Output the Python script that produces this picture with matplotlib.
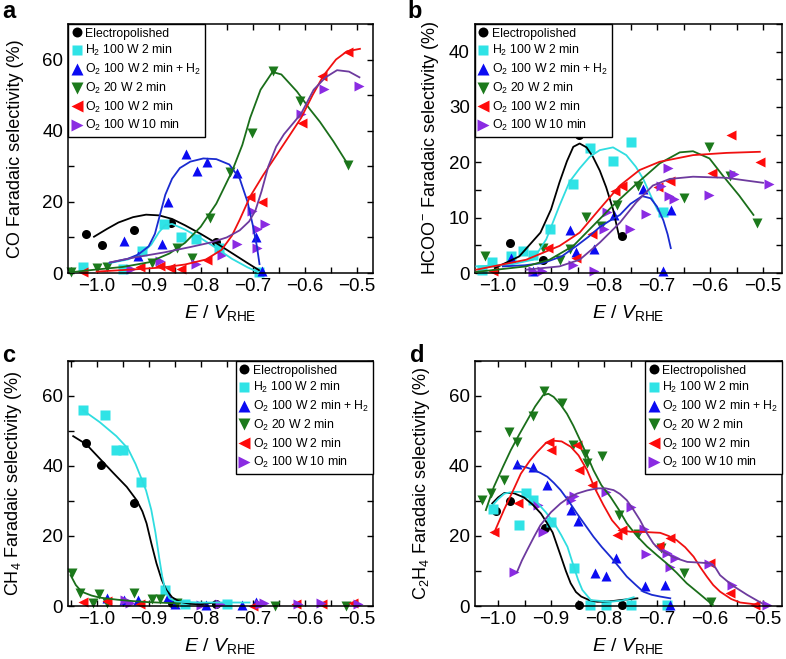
import numpy as np
import matplotlib
matplotlib.use("Agg")
import matplotlib.pyplot as plt
from matplotlib.ticker import MultipleLocator

plt.rcParams['font.family'] = ['Liberation Sans', 'DejaVu Sans']
plt.rcParams['mathtext.fontset'] = 'custom'
plt.rcParams['mathtext.rm'] = 'Liberation Sans'
plt.rcParams['mathtext.it'] = 'Liberation Sans:italic'

labels = ['Electropolished', 'H$_2$ 100 W 2 min', 'O$_2$ 100 W 2 min + H$_2$',
          'O$_2$ 20 W 2 min', 'O$_2$ 100 W 2 min', 'O$_2$ 100 W 10 min']
markers = ['o', 's', '^', 'v', '<', '>']
mcolors = ['black', '#2fe3e6', '#0b0bf2', '#1c7a1c', '#ff0a0a', '#8a2be2']
lcolors = ['black', '#30dde0', '#1a2bd0', '#1a6e1a', '#f01010', '#6d3a9e']

# ---- panel a: CO ----
co_ep = [(-1.02, 11.1), (-0.99, 7.9), (-0.928, 12.1), (-0.858, 14.0), (-0.77, 8.6)]
co_ep_fit = [(-1.005, 10.2), (-0.98, 12.4), (-0.958, 14.2), (-0.93, 15.7), (-0.905, 16.4), (-0.88, 16.2),
             (-0.855, 15.2), (-0.83, 13.4), (-0.80, 11.0), (-0.77, 8.4), (-0.74, 5.6), (-0.71, 2.8), (-0.688, 0.8)]
co_h2 = [(-1.027, 1.7), (-0.949, 1.1), (-0.913, 6.3), (-0.870, 13.9), (-0.838, 10.0), (-0.809, 9.7),
         (-0.764, 7.1), (-0.688, 0.4)]
co_h2_fit = [(-0.975, 2.8), (-0.94, 3.8), (-0.913, 5.5), (-0.895, 8.0), (-0.88, 11.5), (-0.868, 13.5),
             (-0.855, 13.8), (-0.83, 12.2), (-0.80, 9.8), (-0.77, 7.0), (-0.74, 4.0), (-0.71, 1.6), (-0.69, 0.3)]
co_o2h2 = [(-0.947, 9.0), (-0.921, 4.7), (-0.875, 8.1), (-0.862, 19.9), (-0.829, 33.4), (-0.808, 28.6),
           (-0.788, 31.3), (-0.731, 28.2), (-0.694, 10.0), (-0.683, 0.5)]
co_o2h2_fit = [(-0.975, 2.9), (-0.94, 4.0), (-0.92, 5.2), (-0.90, 7.5), (-0.888, 11.0), (-0.878, 16.5),
               (-0.868, 22.0), (-0.855, 26.5), (-0.84, 29.5), (-0.82, 31.3), (-0.795, 32.2), (-0.77, 32.0),
               (-0.745, 30.5), (-0.725, 26.5), (-0.71, 20.0), (-0.70, 13.5), (-0.692, 7.5), (-0.687, 2.5)]
co_o220 = [(-1.049, 0.2), (-1.0, 1.4), (-0.981, 1.6), (-0.894, 2.8), (-0.846, 7.1), (-0.817, 4.3),
           (-0.783, 15.6), (-0.744, 28.4), (-0.702, 39.3), (-0.662, 56.8), (-0.609, 48.3), (-0.517, 30.3)]
co_o220_fit = [(-1.05, 0.2), (-1.0, 1.0), (-0.95, 1.7), (-0.90, 3.0), (-0.86, 5.5), (-0.83, 8.5), (-0.80, 13.0),
               (-0.77, 19.5), (-0.74, 28.5), (-0.72, 36.0), (-0.705, 43.6), (-0.685, 51.5), (-0.662, 56.5),
               (-0.645, 55.8), (-0.615, 51.0), (-0.59, 46.0), (-0.571, 42.5), (-0.545, 37.0), (-0.517, 30.5)]
co_o2100 = [(-1.026, 0.3), (-0.917, 1.7), (-0.878, 1.9), (-0.859, 1.4), (-0.837, 1.1), (-0.788, 3.8),
            (-0.706, 21.3), (-0.683, 19.9), (-0.606, 42.2), (-0.567, 55.5), (-0.516, 62.0)]
co_o2100_fit = [(-1.0, 0.4), (-0.93, 1.0), (-0.87, 1.6), (-0.83, 2.4), (-0.79, 3.8), (-0.76, 6.5), (-0.74, 10.5),
                (-0.725, 15.0), (-0.705, 21.5), (-0.68, 27.5), (-0.655, 33.0), (-0.63, 38.5), (-0.607, 43.6),
                (-0.585, 50.0), (-0.564, 55.5), (-0.54, 60.0), (-0.519, 62.3), (-0.494, 63.0)]
co_o210 = [(-0.934, 1.1), (-0.878, 3.5), (-0.809, 2.4), (-0.760, 5.2), (-0.731, 8.1), (-0.702, 17.5),
           (-0.692, 12.3), (-0.692, 7.1), (-0.676, 13.7), (-0.607, 44.6), (-0.564, 51.6), (-0.495, 52.6)]
co_o210_fit = [(-0.974, 3.0), (-0.93, 4.3), (-0.87, 5.8), (-0.82, 7.3), (-0.78, 8.6), (-0.75, 10.0),
               (-0.725, 12.0), (-0.707, 14.5), (-0.695, 17.5), (-0.683, 23.0), (-0.67, 30.0), (-0.655, 35.5),
               (-0.64, 39.0), (-0.62, 42.5), (-0.607, 44.8), (-0.583, 51.5), (-0.56, 55.0), (-0.538, 57.0),
               (-0.515, 56.6), (-0.495, 55.0)]

# ---- panel b: HCOO- ----
fa_ep = [(-0.978, 5.5), (-0.916, 2.3), (-0.848, 25.0), (-0.767, 6.6)]
fa_ep_fit = [(-1.006, 0.9), (-0.96, 3.0), (-0.92, 7.3), (-0.90, 11.5), (-0.884, 16.4), (-0.87, 20.2),
             (-0.858, 22.8), (-0.846, 23.4), (-0.833, 22.7), (-0.821, 21.0), (-0.808, 18.5), (-0.796, 15.5),
             (-0.783, 11.5), (-0.772, 6.8)]
fa_h2 = [(-1.031, 0.6), (-1.012, 2.0), (-0.975, 3.0), (-0.952, 4.0), (-0.934, 3.3), (-0.902, 8.0),
         (-0.858, 16.0), (-0.827, 22.5), (-0.783, 20.3), (-0.750, 23.7), (-0.688, 11.0)]
fa_h2_fit = [(-1.041, 1.2), (-0.978, 1.5), (-0.934, 2.4), (-0.909, 6.1), (-0.884, 12.2), (-0.865, 16.5),
             (-0.846, 18.9), (-0.827, 21.0), (-0.808, 22.2), (-0.783, 22.7), (-0.758, 21.3), (-0.740, 19.2),
             (-0.726, 17.0), (-0.712, 14.0), (-0.698, 11.2), (-0.688, 10.7), (-0.682, 10.8)]
fa_o2h2 = [(-0.975, 2.7), (-0.934, 0.3), (-0.864, 7.8), (-0.852, 3.8), (-0.818, 4.4), (-0.781, 10.5),
           (-0.726, 15.2), (-0.688, 0.3), (-0.674, 11.3)]
fa_o2h2_fit = [(-0.991, 1.2), (-0.95, 1.4), (-0.915, 1.8), (-0.88, 3.0), (-0.852, 4.9), (-0.83, 6.5),
               (-0.808, 8.3), (-0.79, 9.4), (-0.77, 10.5), (-0.75, 12.5), (-0.728, 13.9), (-0.712, 13.5),
               (-0.70, 12.0), (-0.688, 9.5), (-0.68, 7.0), (-0.674, 4.5)]
fa_o220 = [(-1.025, 3.0), (-0.916, 4.6), (-0.884, 2.3), (-0.864, 4.4), (-0.834, 10.2), (-0.806, 8.5),
           (-0.775, 12.3), (-0.735, 15.7), (-0.649, 13.6), (-0.601, 22.8), (-0.563, 17.5), (-0.511, 9.0)]
fa_o220_fit = [(-1.041, 0.2), (-0.947, 1.2), (-0.903, 2.4), (-0.858, 4.9), (-0.821, 8.5), (-0.783, 12.2),
               (-0.739, 16.1), (-0.695, 19.8), (-0.657, 21.8), (-0.632, 22.0), (-0.601, 20.7), (-0.575, 17.5),
               (-0.545, 14.0), (-0.518, 10.5)]
fa_o2100 = [(-1.009, 0.3), (-0.906, 4.6), (-0.853, 2.7), (-0.822, 7.0), (-0.780, 14.9), (-0.767, 15.8),
            (-0.698, 15.5), (-0.676, 16.7), (-0.597, 18.1), (-0.560, 25.0), (-0.506, 20.1)]
fa_o2100_fit = [(-1.041, 0.6), (-0.947, 2.4), (-0.884, 4.9), (-0.846, 7.3), (-0.808, 11.6), (-0.770, 15.8),
                (-0.733, 18.6), (-0.695, 20.1), (-0.632, 21.3), (-0.569, 21.7), (-0.506, 21.9)]
fa_o210 = [(-0.934, 0.3), (-0.918, 0.3), (-0.858, 1.5), (-0.818, 0.3), (-0.800, 7.9), (-0.795, 11.0),
           (-0.751, 8.0), (-0.721, 10.7), (-0.692, 15.8), (-0.679, 18.9), (-0.677, 14.0), (-0.668, 13.3),
           (-0.601, 14.1), (-0.555, 17.8), (-0.488, 16.1)]
fa_o210_fit = [(-0.947, 0.6), (-0.884, 1.2), (-0.846, 2.4), (-0.808, 5.5), (-0.770, 9.1), (-0.739, 12.8),
               (-0.708, 15.8), (-0.676, 17.0), (-0.632, 17.4), (-0.569, 17.2), (-0.531, 16.7), (-0.50, 16.3)]

# ---- panel c: CH4 ----
ch4_ep = [(-1.020, 46.6), (-0.992, 40.4), (-0.928, 29.5), (-0.855, 1.0), (-0.77, 0.5)]
ch4_ep_fit = [(-1.045, 48.5), (-1.02, 46.2), (-0.994, 42.1), (-0.968, 38.0), (-0.942, 34.0), (-0.923, 30.2),
              (-0.912, 27.0), (-0.904, 23.6), (-0.895, 18.0), (-0.885, 12.2), (-0.875, 7.5), (-0.866, 4.6),
              (-0.855, 2.5), (-0.84, 1.2), (-0.82, 0.6), (-0.80, 0.5), (-0.773, 1.0)]
ch4_h2 = [(-1.026, 55.9), (-0.984, 54.5), (-0.963, 44.5), (-0.949, 44.5), (-0.915, 35.5), (-0.869, 4.6),
          (-0.83, 0.5), (-0.75, 0.5)]
ch4_h2_fit = [(-1.026, 55.9), (-0.994, 52.5), (-0.962, 48.5), (-0.94, 45.0), (-0.925, 40.5), (-0.915, 36.8),
              (-0.905, 33.0), (-0.895, 27.5), (-0.887, 21.0), (-0.88, 14.0), (-0.874, 8.5), (-0.868, 4.5),
              (-0.86, 2.2), (-0.847, 1.2), (-0.80, 1.0), (-0.706, 1.0)]
ch4_o2h2 = [(-0.981, 2.2), (-0.948, 1.7), (-0.920, 1.7), (-0.863, 2.7), (-0.85, 0.5), (-0.79, 0.3),
            (-0.72, 0.3), (-0.694, 1.2)]
ch4_o220 = [(-1.048, 9.3), (-1.032, 3.6), (-1.006, 0.8), (-0.995, 3.4), (-0.981, 0.8), (-0.928, 3.8),
            (-0.894, 1.9), (-0.878, 1.9), (-0.846, 0.8), (-0.658, 0.1), (-0.52, 0.1)]
ch4_o220_fit = [(-1.05, 8.8), (-1.04, 6.0), (-1.029, 4.1), (-1.01, 3.0), (-0.994, 2.4), (-0.96, 1.8),
                (-0.93, 1.4), (-0.90, 1.1), (-0.866, 0.9), (-0.84, 0.7)]
ch4_o2100 = [(-1.026, 1.2), (-0.981, 1.5), (-0.917, 0.6), (-0.70, 0.1), (-0.616, 0.6), (-0.566, 0.6),
             (-0.507, 0.8)]
ch4_o210 = [(-0.946, 1.7), (-0.935, 0.8), (-0.80, 0.3), (-0.763, 0.6), (-0.686, 0.6), (-0.679, 0.8),
            (-0.613, 0.6), (-0.568, 0.8), (-0.498, 0.6)]

# ---- panel d: C2H4 ----
c2_ep = [(-1.004, 27.2), (-0.977, 30.0), (-0.912, 22.2), (-0.847, 0.3), (-0.767, 0.3)]
c2_ep_fit = [(-1.011, 29.3), (-1.0, 31.0), (-0.988, 32.3), (-0.97, 32.2), (-0.951, 31.0), (-0.935, 29.0),
             (-0.919, 26.4), (-0.908, 23.8), (-0.897, 21.0), (-0.889, 17.5), (-0.881, 14.0), (-0.872, 10.0),
             (-0.863, 6.5), (-0.853, 4.0), (-0.843, 2.7), (-0.828, 1.7), (-0.813, 1.2), (-0.79, 1.3),
             (-0.769, 1.7), (-0.737, 2.2)]
c2_h2 = [(-1.010, 27.6), (-0.96, 23.2), (-0.947, 32.2), (-0.935, 30.2), (-0.900, 24.1), (-0.857, 10.8),
         (-0.826, 0.3), (-0.797, 0.3), (-0.749, 0.3), (-0.681, 0.3)]
c2_h2_fit = [(-1.013, 28.3), (-1.0, 30.5), (-0.988, 32.1), (-0.972, 32.6), (-0.957, 32.6), (-0.94, 31.2),
             (-0.925, 29.3), (-0.91, 26.8), (-0.894, 23.6), (-0.881, 20.3), (-0.869, 16.9), (-0.857, 11.2),
             (-0.849, 7.5), (-0.841, 4.6), (-0.825, 1.7), (-0.788, 1.2), (-0.765, 1.6), (-0.744, 2.5)]
c2_o2h2 = [(-0.964, 40.5), (-0.934, 39.7), (-0.907, 34.5), (-0.863, 27.4), (-0.849, 24.3), (-0.817, 9.5),
           (-0.797, 8.6), (-0.778, 13.8), (-0.723, 5.7), (-0.684, 6.0), (-0.676, 0.3)]
c2_o2h2_fit = [(-0.965, 40.2), (-0.945, 39.5), (-0.932, 38.8), (-0.92, 38.0), (-0.907, 36.9), (-0.895, 35.2),
               (-0.882, 33.1), (-0.866, 29.8), (-0.851, 26.4), (-0.835, 23.0), (-0.820, 19.8), (-0.804, 16.8),
               (-0.788, 14.1), (-0.772, 11.2), (-0.757, 8.4), (-0.74, 6.0), (-0.726, 4.1), (-0.71, 3.2),
               (-0.694, 2.7), (-0.675, 2.2)]
c2_o220 = [(-1.031, 30.4), (-1.013, 32.2), (-0.988, 36.0), (-0.979, 49.7), (-0.965, 46.9), (-0.934, 54.2),
           (-0.914, 61.4), (-0.879, 58.0), (-0.858, 45.9), (-0.835, 43.3), (-0.833, 40.7), (-0.804, 42.8),
           (-0.772, 26.0), (-0.735, 20.6), (-0.693, 16.5), (-0.650, 9.3), (-0.599, 1.1)]
c2_o220_fit = [(-1.023, 27.4), (-1.008, 34.0), (-0.99, 40.0), (-0.976, 44.5), (-0.96, 49.0), (-0.945, 53.0),
               (-0.93, 57.0), (-0.915, 60.2), (-0.905, 60.6), (-0.895, 59.7), (-0.882, 57.5), (-0.870, 54.9),
               (-0.858, 51.5), (-0.845, 47.3), (-0.832, 43.0), (-0.82, 38.8), (-0.805, 34.5), (-0.788, 31.2),
               (-0.772, 27.5), (-0.757, 23.6), (-0.738, 20.0), (-0.719, 17.0), (-0.70, 14.5), (-0.682, 12.2),
               (-0.663, 9.5), (-0.644, 6.5), (-0.62, 3.5), (-0.594, 0.2)]
c2_o2100 = [(-1.007, 21.2), (-0.963, 29.3), (-0.904, 46.9), (-0.90, 44.5), (-0.851, 45.9), (-0.847, 38.8),
            (-0.822, 34.5), (-0.775, 20.3), (-0.766, 21.7), (-0.697, 17.1), (-0.675, 19.3), (-0.600, 12.2),
            (-0.562, 3.6), (-0.515, 0.3)]
c2_o2100_fit = [(-1.008, 20.7), (-0.989, 27.4), (-0.97, 33.5), (-0.957, 37.8), (-0.94, 41.5), (-0.926, 44.0),
                (-0.91, 46.5), (-0.895, 47.2), (-0.88, 47.0), (-0.863, 45.5), (-0.848, 43.0), (-0.832, 38.8),
                (-0.817, 33.5), (-0.801, 28.8), (-0.785, 24.5), (-0.769, 21.7), (-0.75, 21.2), (-0.732, 21.2),
                (-0.694, 20.9), (-0.678, 20.0), (-0.663, 18.8), (-0.647, 16.8), (-0.631, 14.1), (-0.618, 11.0),
                (-0.606, 8.4), (-0.594, 6.0), (-0.581, 4.1), (-0.56, 2.0), (-0.543, 1.0), (-0.51, 0.4)]
c2_o210 = [(-0.969, 9.8), (-0.925, 28.8), (-0.916, 21.2), (-0.863, 30.2), (-0.857, 31.4), (-0.797, 32.6),
           (-0.750, 28.3), (-0.725, 22.0), (-0.720, 14.9), (-0.682, 15.0), (-0.676, 11.2), (-0.667, 13.6),
           (-0.601, 12.0), (-0.559, 6.0), (-0.493, 0.3)]
c2_o210_fit = [(-0.964, 9.8), (-0.955, 13.0), (-0.945, 16.0), (-0.932, 19.8), (-0.92, 23.1), (-0.90, 26.8),
               (-0.882, 29.3), (-0.866, 31.0), (-0.851, 32.1), (-0.832, 33.0), (-0.813, 33.6), (-0.797, 33.6),
               (-0.782, 33.1), (-0.77, 32.0), (-0.757, 30.2), (-0.745, 27.6), (-0.732, 24.5), (-0.72, 21.0),
               (-0.707, 17.9), (-0.695, 16.0), (-0.682, 15.0), (-0.67, 14.0), (-0.657, 13.3), (-0.643, 12.6),
               (-0.62, 12.4), (-0.60, 12.2), (-0.59, 11.0), (-0.581, 8.8), (-0.559, 6.0), (-0.53, 3.2),
               (-0.50, 0.6)]

panels = [
    dict(pos=[0.0865, 0.5857, 0.388, 0.378], ylim=70, ymaj=20, ymin=10, xlim=(-1.055, -0.469),
         ylabel='CO Faradaic selectivity (%)', ypad=13, letter='a', lx=0.003, ly=0.9727, loc='upper left',
         pts=[co_ep, co_h2, co_o2h2, co_o220, co_o2100, co_o210],
         fits=[co_ep_fit, co_h2_fit, co_o2h2_fit, co_o220_fit, co_o2100_fit, co_o210_fit]),
    dict(pos=[0.604, 0.5857, 0.391, 0.378], ylim=45, ymaj=10, ymin=5, xlim=(-1.044, -0.464),
         ylabel='HCOO$^{-}$ Faradaic selectivity (%)', ypad=6, letter='b', lx=0.519, ly=0.9727, loc='upper left',
         pts=[fa_ep, fa_h2, fa_o2h2, fa_o220, fa_o2100, fa_o210],
         fits=[fa_ep_fit, fa_h2_fit, fa_o2h2_fit, fa_o220_fit, fa_o2100_fit, fa_o210_fit]),
    dict(pos=[0.0865, 0.0804, 0.388, 0.372], ylim=70, ymaj=20, ymin=10, xlim=(-1.055, -0.469),
         ylabel='CH$_4$ Faradaic selectivity (%)', ypad=13, letter='c', lx=0.003, ly=0.4507, loc='upper right',
         pts=[ch4_ep, ch4_h2, ch4_o2h2, ch4_o220, ch4_o2100, ch4_o210],
         fits=[ch4_ep_fit, ch4_h2_fit, None, ch4_o220_fit, None, None]),
    dict(pos=[0.604, 0.0804, 0.391, 0.372], ylim=70, ymaj=20, ymin=10, xlim=(-1.044, -0.464),
         ylabel='C$_2$H$_4$ Faradaic selectivity (%)', ypad=12, letter='d', lx=0.521, ly=0.4507, loc='upper right',
         pts=[c2_ep, c2_h2, c2_o2h2, c2_o220, c2_o2100, c2_o210],
         fits=[c2_ep_fit, c2_h2_fit, c2_o2h2_fit, c2_o220_fit, c2_o2100_fit, c2_o210_fit]),
]

fig = plt.figure(figsize=(7.86, 6.59), dpi=100)

for p in panels:
    ax = fig.add_axes(p['pos'])
    for i in range(6):
        xy = np.array(p['pts'][i])
        ms = 6.5 if markers[i] in 'os' else 7.5
        ax.plot(xy[:, 0], xy[:, 1], ls='none', marker=markers[i], ms=ms, mec='none',
                mfc=mcolors[i], label=labels[i], zorder=2, clip_on=False)
    for i in range(6):
        if p['fits'][i] is None:
            continue
        f = np.array(p['fits'][i])
        ax.plot(f[:, 0], f[:, 1], color=lcolors[i], lw=1.3, zorder=3)
    ax.set_xlim(*p['xlim'])
    ax.set_ylim(0, p['ylim'])
    ax.xaxis.set_major_locator(MultipleLocator(0.1))
    ax.xaxis.set_minor_locator(MultipleLocator(0.05))
    ax.yaxis.set_major_locator(MultipleLocator(p['ymaj']))
    ax.yaxis.set_minor_locator(MultipleLocator(p['ymin']))
    ax.tick_params(which='both', direction='in', top=True, right=True, length=4, width=1,
                   labelsize=13.5)
    for s in ax.spines.values():
        s.set_linewidth(1.1)
    ax.set_xlabel('$E$ / $V_{\\mathrm{RHE}}$', fontsize=14, labelpad=6)
    ax.set_ylabel(p['ylabel'], fontsize=13, labelpad=p['ypad'])
    leg = ax.legend(loc=p['loc'], fontsize=8.8, numpoints=1, handlelength=0.8, handletextpad=0.3,
                    borderpad=0.3, labelspacing=0.3, borderaxespad=0, fancybox=False,
                    edgecolor='black', framealpha=1, markerscale=1.1)
    leg.get_frame().set_linewidth(1.0)
    fig.text(p['lx'], p['ly'], p['letter'], fontsize=17, fontweight='bold', ha='left', va='baseline')

fig.savefig('out.png', dpi=100)
